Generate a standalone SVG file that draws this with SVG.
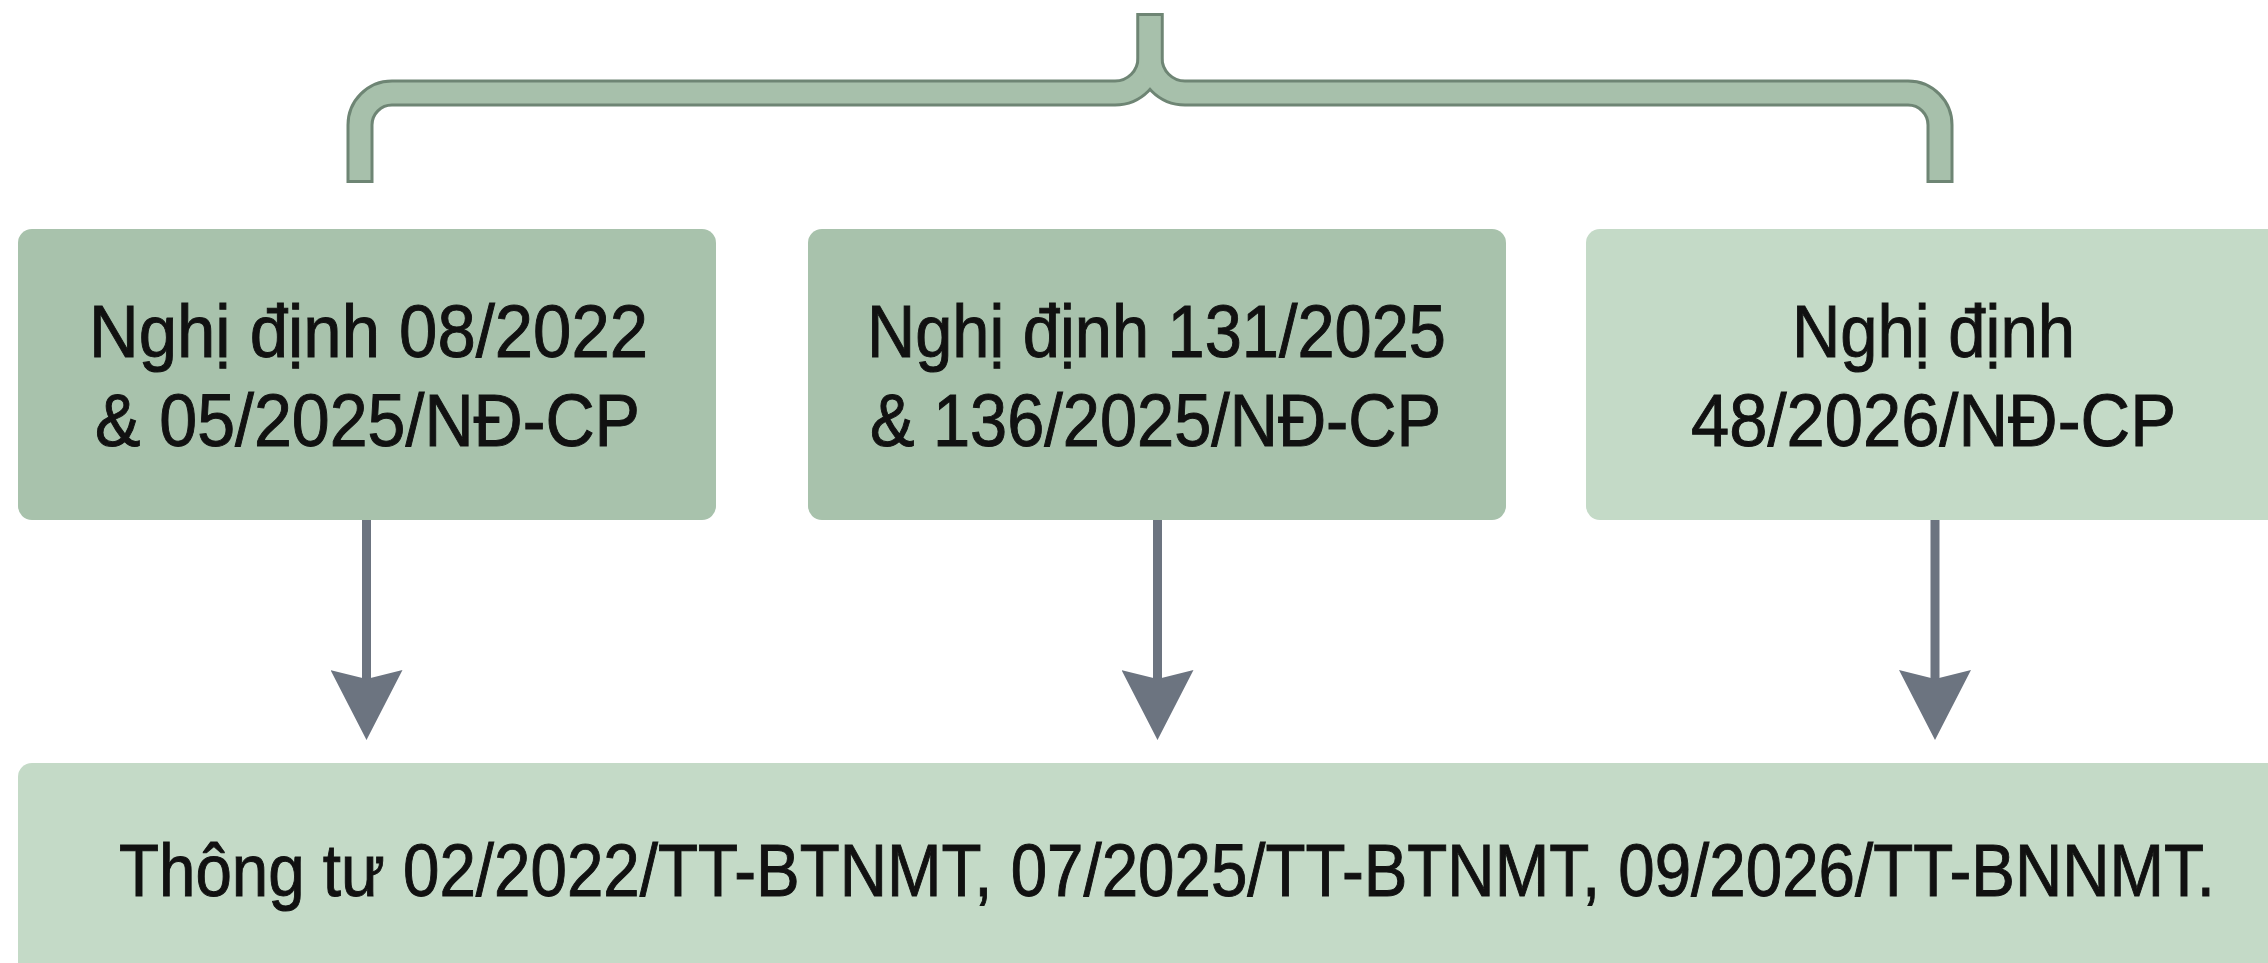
<svg xmlns="http://www.w3.org/2000/svg" width="2268" height="963" viewBox="0 0 2268 963">
  <style>
    .box-dark { fill: #a8c2ac; }
    .box-light { fill: #c4dac7; }
    .lbl { font-family: "Liberation Sans", Arial, sans-serif; font-size: 75px; fill: #111111; stroke: #111111; stroke-width: 1; }
    .brace-out { fill: none; stroke: #6e8574; stroke-width: 27; stroke-linejoin: round; }
    .brace-in { fill: none; stroke: #a7c0ab; stroke-width: 21; stroke-linejoin: round; }
    .conn { stroke: #6c7480; stroke-width: 9; fill: none; }
  </style>
  <defs>
    <marker id="arrowhead" viewBox="0 0 70 72" markerUnits="userSpaceOnUse" markerWidth="70" markerHeight="72" refX="30" refY="36" orient="auto">
      <path d="M0,0 L9,36 L0,72 L70,36 Z" fill="#6c7480"/>
    </marker>
  </defs>
  <rect width="2268" height="963" fill="#ffffff"/>

  <g id="brace">
    <path class="brace-out" d="M360,183 V125 A32,32 0 0 1 392,93 H1115 A35,35 0 0 0 1150,58 V13"/>
    <path class="brace-out" d="M1940,183 V125 A32,32 0 0 0 1908,93 H1185 A35,35 0 0 1 1150,58 V13"/>
    <path class="brace-in" d="M360,180 V125 A32,32 0 0 1 392,93 H1115 A35,35 0 0 0 1150,58 V16"/>
    <path class="brace-in" d="M1940,180 V125 A32,32 0 0 0 1908,93 H1185 A35,35 0 0 1 1150,58 V16"/>
  </g>

  <g id="node1">
    <rect class="box-dark" x="18" y="229" width="698" height="291" rx="14"/>
    <text class="lbl" x="89" y="357" textLength="559" lengthAdjust="spacingAndGlyphs">Nghị định 08/2022</text>
    <text class="lbl" x="95" y="446" textLength="545" lengthAdjust="spacingAndGlyphs">&amp; 05/2025/NĐ-CP</text>
  </g>

  <g id="node2">
    <rect class="box-dark" x="808" y="229" width="698" height="291" rx="14"/>
    <text class="lbl" x="867" y="357" textLength="579" lengthAdjust="spacingAndGlyphs">Nghị định 131/2025</text>
    <text class="lbl" x="870" y="446" textLength="571" lengthAdjust="spacingAndGlyphs">&amp; 136/2025/NĐ-CP</text>
  </g>

  <g id="node3">
    <path class="box-light" d="M1600,229 H2268 V520 H1600 A14,14 0 0 1 1586,506 V243 A14,14 0 0 1 1600,229 Z"/>
    <text class="lbl" x="1792" y="357" textLength="283" lengthAdjust="spacingAndGlyphs">Nghị định</text>
    <text class="lbl" x="1691" y="446" textLength="485" lengthAdjust="spacingAndGlyphs">48/2026/NĐ-CP</text>
  </g>

  <g id="node4">
    <path class="box-light" d="M32,763 H2268 V963 H18 V777 A14,14 0 0 1 32,763 Z"/>
    <text class="lbl" transform="translate(119,896) scale(0.8615,1)" x="0" y="0" textLength="2433" lengthAdjust="spacingAndGlyphs">Thông tư 02/2022/TT-BTNMT, 07/2025/TT-BTNMT, 09/2026/TT-BNNMT.</text>
  </g>

  <g id="connectors">
    <line class="conn" x1="366.5" y1="520" x2="366.5" y2="700" marker-end="url(#arrowhead)"/>
    <line class="conn" x1="1157.5" y1="520" x2="1157.5" y2="700" marker-end="url(#arrowhead)"/>
    <line class="conn" x1="1935" y1="520" x2="1935" y2="700" marker-end="url(#arrowhead)"/>
  </g>
</svg>
